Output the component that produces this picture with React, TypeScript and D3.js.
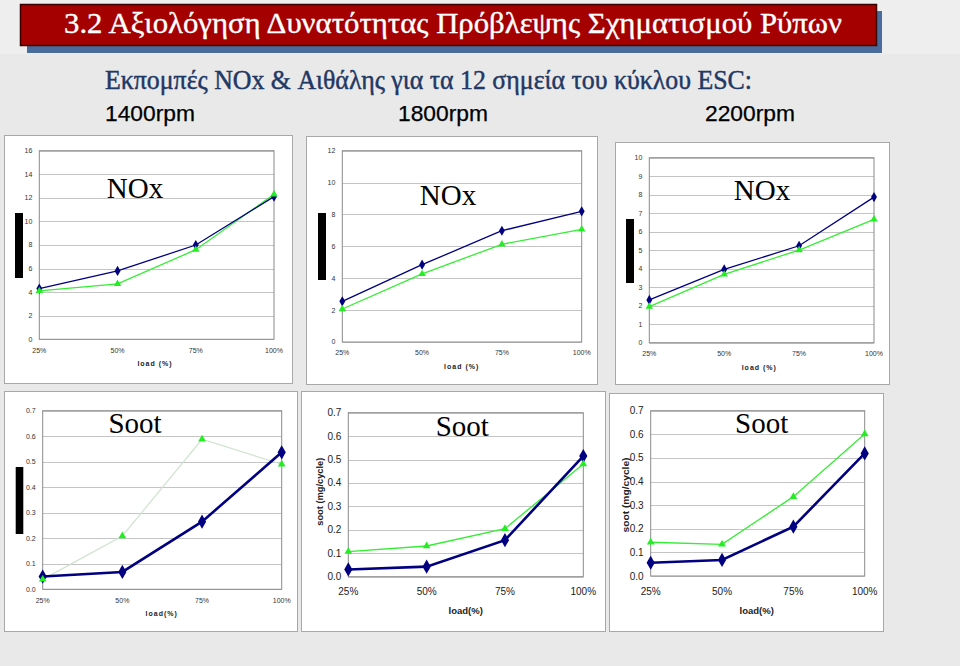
import React from "react";
import * as d3 from "d3";

// ---------- data ----------
const loads = ["25%", "50%", "75%", "100%"];

const nox1400Measured = [4.3, 5.8, 8.0, 12.1];
const nox1400Predicted = [4.1, 4.7, 7.6, 12.3];
const nox1800Measured = [2.55, 4.85, 6.98, 8.2];
const nox1800Predicted = [2.07, 4.27, 6.13, 7.07];
const nox2200Measured = [2.31, 3.96, 5.24, 7.87];
const nox2200Predicted = [1.95, 3.69, 5.01, 6.67];

const soot1400Measured = [0.05, 0.068, 0.265, 0.537];
const soot1400Predicted = [0.039, 0.209, 0.588, 0.49];
const soot1800Measured = [0.031, 0.043, 0.156, 0.515];
const soot1800Predicted = [0.107, 0.131, 0.205, 0.481];
const soot2200Measured = [0.056, 0.068, 0.209, 0.519];
const soot2200Predicted = [0.143, 0.134, 0.336, 0.601];

const titleText = "3.2 Αξιολόγηση Δυνατότητας Πρόβλεψης Σχηματισμού Ρύπων";
const subtitleText = "Εκπομπές NOx & Αιθάλης για τα 12 σημεία του κύκλου ESC:";
const rpmLabels = ["1400rpm", "1800rpm", "2200rpm"];

// ---------- layout ----------
const SERIF = "'Liberation Serif', 'DejaVu Serif', serif";
const SANS = "'Liberation Sans', Arial, sans-serif";
const NAVY = "#000080";
const GREEN = "#22ee22";

type Panel = {
  box: [number, number, number, number];
  plot: [number, number, number, number];
  yMax: number;
  yStep: number;
  fmt: string;
  measured: number[];
  predicted: number[];
  label: string;
  labelPos: [number, number];
  xTitle: string;
  xTitlePos: [number, number];
  big: boolean;
  bar?: [number, number, number, number];
  yTitlePos?: [number, number, number];
  soot: boolean;
  paleGreen?: boolean;
};

const panels: Panel[] = [
  {
    box: [4, 135, 292, 383], plot: [39.3, 150.7, 274, 339.3], yMax: 16, yStep: 2, fmt: "d",
    measured: nox1400Measured, predicted: nox1400Predicted, label: "NOx", labelPos: [135, 188],
    xTitle: "load (%)", xTitlePos: [155, 363.5], big: false, bar: [15, 213, 8, 65], soot: false,
  },
  {
    box: [306, 136, 597, 384], plot: [342.3, 150.7, 581.7, 342], yMax: 12, yStep: 2, fmt: "d",
    measured: nox1800Measured, predicted: nox1800Predicted, label: "NOx", labelPos: [448, 195],
    xTitle: "load (%)", xTitlePos: [461.7, 367], big: false, bar: [318, 213, 8, 67], soot: false,
  },
  {
    box: [615, 142, 889, 384], plot: [649.3, 157.7, 874, 342.7], yMax: 10, yStep: 1, fmt: "d",
    measured: nox2200Measured, predicted: nox2200Predicted, label: "NOx", labelPos: [762, 190],
    xTitle: "load (%)", xTitlePos: [759.3, 367.5], big: false, bar: [626, 219, 8, 64], soot: false,
  },
  {
    box: [4, 391, 297, 631], plot: [42.7, 410.7, 281.7, 589.3], yMax: 0.7, yStep: 0.1, fmt: ".1f",
    measured: soot1400Measured, predicted: soot1400Predicted, label: "Soot", labelPos: [135, 423.3],
    xTitle: "load(%)", xTitlePos: [161.7, 613.5], big: false, bar: [15.7, 467, 7.6, 67], soot: true,
    paleGreen: true,
  },
  {
    box: [301, 391, 605, 631], plot: [348.3, 412.7, 583.3, 576.7], yMax: 0.7, yStep: 0.1, fmt: ".1f",
    measured: soot1800Measured, predicted: soot1800Predicted, label: "Soot", labelPos: [462.3, 426.7],
    xTitle: "load(%)", xTitlePos: [465.7, 611], big: true, yTitlePos: [320, 491.7, 68], soot: true,
  },
  {
    box: [609, 393, 883, 631], plot: [650.7, 410.7, 864.7, 576], yMax: 0.7, yStep: 0.1, fmt: ".1f",
    measured: soot2200Measured, predicted: soot2200Predicted, label: "Soot", labelPos: [761.7, 423.3],
    xTitle: "load(%)", xTitlePos: [756.7, 611], big: true, yTitlePos: [626, 495, 75], soot: true,
  },
];

function ChartPanel({ p }: { p: Panel }) {
  const [bx0, by0, bx1, by1] = p.box;
  const [px0, py0, px1, py1] = p.plot;
  const x = d3.scalePoint<string>().domain(loads).range([px0, px1]).padding(0);
  const y = d3.scaleLinear().domain([0, p.yMax]).range([py1, py0]);
  const ticks = d3.range(0, p.yMax + p.yStep / 2, p.yStep);
  const fmt = d3.format(p.fmt);
  const line = d3
    .line<number>()
    .x((_, i) => x(loads[i]) as number)
    .y((d) => y(d));
  const diamond = d3.symbol().type(d3.symbolDiamond).size(p.soot ? 58 : 30)();
  const tri = d3.symbol().type(d3.symbolTriangle).size(p.soot ? 26 : 24)();
  const tickFont = p.big ? 10 : 7;
  const tickColor = p.big ? "#222" : "#333";

  return (
    <g>
      <rect x={bx0 + 0.5} y={by0 + 0.5} width={bx1 - bx0} height={by1 - by0} fill="#fff" stroke="#a8a8a8" />
      {p.bar && <rect x={p.bar[0]} y={p.bar[1]} width={p.bar[2]} height={p.bar[3]} fill="#000" />}
      {ticks.map((t) => (
        <line key={"g" + t} x1={px0} x2={px1} y1={Math.round(y(t)) + 0.5} y2={Math.round(y(t)) + 0.5}
          stroke="#c4c4c4" strokeWidth={1} />
      ))}
      <rect x={px0} y={py0} width={px1 - px0} height={py1 - py0} fill="none" stroke="#8a8a8a" strokeWidth={1} />
      {ticks.map((t) => (
        <text key={"t" + t} x={px0 - 7} y={y(t)} dy="0.35em" textAnchor="end"
          fontFamily={SANS} fontSize={tickFont} fill={tickColor}>
          {fmt(t)}
        </text>
      ))}
      {loads.map((l) => (
        <text key={"x" + l} x={x(l)} y={py1 + (p.big ? 15 : 11)} dy="0.35em" textAnchor="middle"
          fontFamily={SANS} fontSize={tickFont} fill={tickColor}>
          {l}
        </text>
      ))}
      <text x={p.xTitlePos[0]} y={p.xTitlePos[1]} dy="0.35em" textAnchor="middle" fontFamily={SANS}
        fontWeight="bold" fontSize={p.big ? 9.5 : 7} letterSpacing={p.big ? 0 : 1} fill="#222">
        {p.xTitle}
      </text>
      {p.yTitlePos && (
        <text transform={`translate(${p.yTitlePos[0]},${p.yTitlePos[1]}) rotate(-90)`} dy="0.35em"
          textAnchor="middle" fontFamily={SANS} fontWeight="bold" fontSize={9} fill="#222"
          textLength={p.yTitlePos[2]} lengthAdjust="spacingAndGlyphs">
          soot (mg/cycle)
        </text>
      )}
      <text x={p.labelPos[0]} y={p.labelPos[1] + 9.6} textAnchor="middle" fontFamily={SERIF} fontSize={29} fill="#000">
        {p.label}
      </text>
      <path d={line(p.predicted) || ""} fill="none" stroke={p.paleGreen ? "#cfe3cf" : "#33ee33"}
        strokeWidth={p.paleGreen ? 1.2 : 1.3} />
      <path d={line(p.measured) || ""} fill="none" stroke={NAVY} strokeWidth={p.soot ? 2.6 : 1.3} />
      {p.measured.map((v, i) => (
        <path key={"m" + i} d={diamond || ""} transform={`translate(${x(loads[i])},${y(v)})`} fill={NAVY} />
      ))}
      {p.predicted.map((v, i) => (
        <path key={"p" + i} d={tri || ""} transform={`translate(${x(loads[i])},${y(v)})`} fill={GREEN} />
      ))}
    </g>
  );
}

export default function App() {
  return (
    <svg width={960} height={666} style={{ position: "absolute", left: 0, top: 0 }}
      xmlns="http://www.w3.org/2000/svg">
      <rect x={0} y={0} width={960} height={666} fill="#e9e9e9" />
      <rect x={0} y={0} width={960} height={54} fill="#eeeeee" />
      <rect x={27} y={11} width={855} height={42} fill="#4a6c9c" />
      <rect x={20.5} y={4.5} width={856} height={41} fill="#a40000" stroke="#3a0000" strokeWidth={1.5} />
      <text x={64} y={33} fontFamily={SERIF} fontSize={29} fill="#fff" stroke="#fff" strokeWidth={0.35}
        textLength={778} lengthAdjust="spacingAndGlyphs">
        {titleText}
      </text>
      <text x={105} y={89} fontFamily={SERIF} fontSize={27} fill="#1f3864" stroke="#1f3864" strokeWidth={0.45}
        textLength={647} lengthAdjust="spacingAndGlyphs">
        {subtitleText}
      </text>
      {rpmLabels.map((r, i) => (
        <text key={r} x={[105, 398, 705][i]} y={121} fontFamily={SANS} fontSize={22} fill="#000"
          stroke="#000" strokeWidth={0.25} textLength={90} lengthAdjust="spacingAndGlyphs">
          {r}
        </text>
      ))}
      {panels.map((p, i) => (
        <ChartPanel key={i} p={p} />
      ))}
    </svg>
  );
}
